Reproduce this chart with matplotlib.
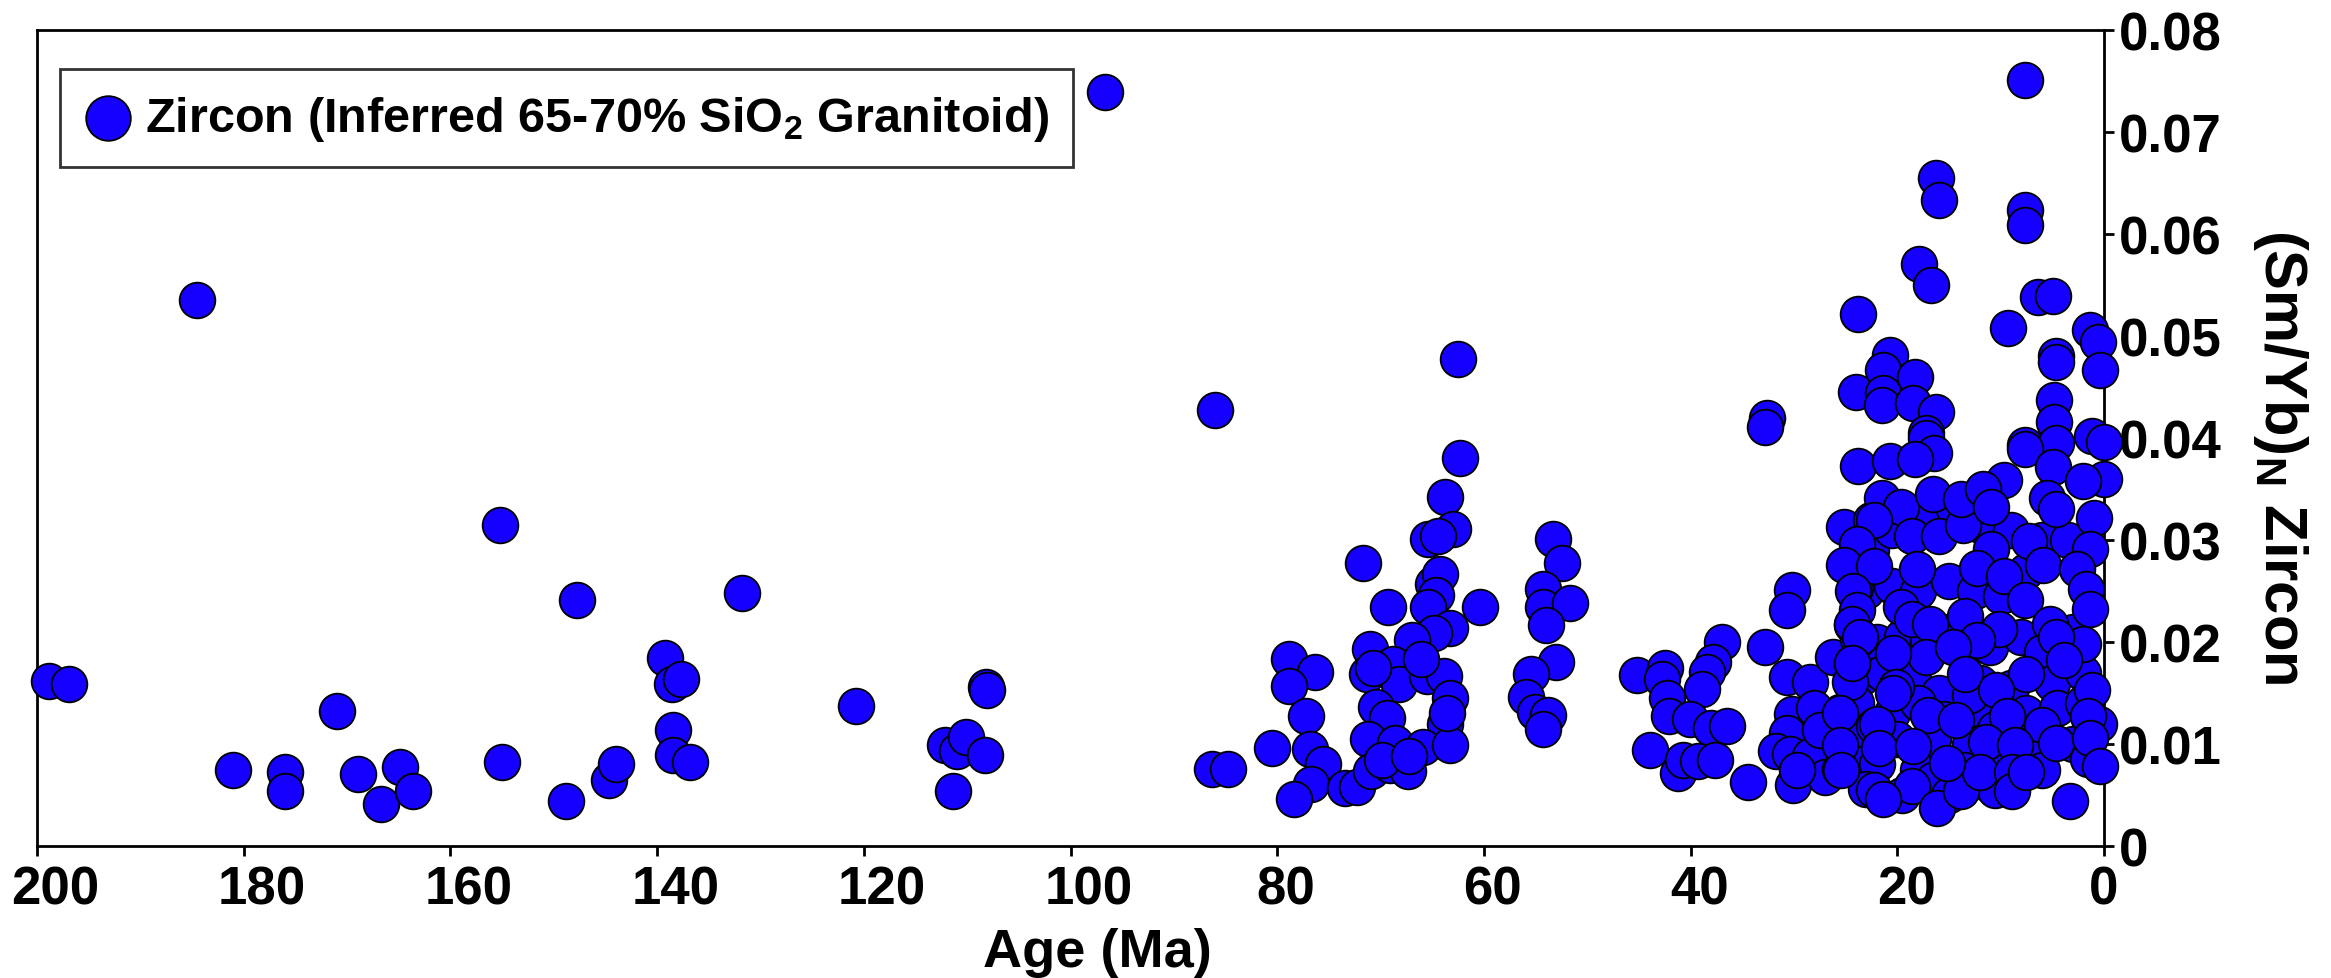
import matplotlib
matplotlib.use('Agg')
import matplotlib.pyplot as plt
from matplotlib.transforms import ScaledTranslation

plt.rcParams['font.family'] = ['Liberation Sans', 'DejaVu Sans']
plt.rcParams['font.weight'] = 'bold'
plt.rcParams['mathtext.fontset'] = 'custom'
plt.rcParams['mathtext.rm'] = 'Liberation Sans:bold'
plt.rcParams['mathtext.bf'] = 'Liberation Sans:bold'
plt.rcParams['mathtext.default'] = 'bf'

# ── data: age (Ma) and (Sm/Yb)N of zircon ──
# Jurassic - Cretaceous scatter
age_old = [198.8, 196.9, 184.5, 181.0, 176.0, 176.0, 171.0, 168.9, 166.7, 164.9,
           163.6, 155.2, 155.0, 148.8, 147.8, 144.7, 144.0, 139.2, 138.6, 137.7,
           138.5, 138.5, 136.8, 131.8, 120.8, 112.1, 111.0, 110.1, 111.4, 108.2,
           108.1, 108.3, 96.7, 86.0, 86.3, 84.8]
smyb_old = [0.0162, 0.0159, 0.0535, 0.0075, 0.0073, 0.0054, 0.0132, 0.0071, 0.0041, 0.0077,
            0.0054, 0.0315, 0.0082, 0.0044, 0.0241, 0.0065, 0.0080, 0.0184, 0.0159, 0.0164,
            0.0114, 0.0089, 0.0082, 0.0248, 0.0137, 0.0099, 0.0093, 0.0107, 0.0054, 0.0156,
            0.0153, 0.0089, 0.0739, 0.0427, 0.0076, 0.0076]

# Late Cretaceous - Eocene groups
age_mid = [62.5, 62.3, 63.8, 63.0, 65.4, 64.4, 71.7, 64.9, 64.2, 64.6,
           69.3, 65.4, 60.4, 63.3, 64.8, 67.0, 71.0, 78.9, 76.3, 78.9,
           71.3, 68.8, 68.2, 65.5, 63.9, 63.3, 77.2, 70.4, 69.4, 63.8,
           80.5, 76.8, 71.2, 68.6, 65.9, 63.3, 75.6, 76.7, 78.4, 73.4,
           72.3, 70.9, 69.1, 67.3, 66.1, 70.7, 69.9, 67.2, 63.6,
           53.3, 52.4, 54.3, 54.3, 51.7, 54.0, 53.0, 55.4, 55.9, 55.1,
           53.8, 54.3]
smyb_mid = [0.0477, 0.0380, 0.0342, 0.0311, 0.0301, 0.0304, 0.0277, 0.0257, 0.0267, 0.0246,
            0.0234, 0.0234, 0.0234, 0.0214, 0.0209, 0.0202, 0.0193, 0.0183, 0.0171, 0.0157,
            0.0169, 0.0178, 0.0159, 0.0167, 0.0167, 0.0145, 0.0127, 0.0136, 0.0126, 0.0120,
            0.0096, 0.0095, 0.0105, 0.0101, 0.0097, 0.0099, 0.0080, 0.0061, 0.0046, 0.0057,
            0.0058, 0.0074, 0.0079, 0.0074, 0.0183, 0.0175, 0.0084, 0.0088, 0.0130,
            0.0301, 0.0277, 0.0252, 0.0234, 0.0238, 0.0217, 0.0180, 0.0169, 0.0146, 0.0131,
            0.0128, 0.0115]

# Eocene - Oligocene
age_olig = [32.6, 32.8, 30.2, 30.7, 32.8, 37.0, 37.8, 38.4, 38.9, 45.2,
            42.5, 42.8, 42.3, 42.1, 40.1, 38.0, 36.5, 43.9, 41.2, 40.7,
            39.3, 37.6, 34.4, 30.7, 28.4, 30.2, 30.7, 31.7, 30.4, 30.1,
            28.4, 27.0, 25.5, 25.5, 26.2, 28.1, 27.5, 29.7]
smyb_olig = [0.0420, 0.0411, 0.0251, 0.0231, 0.0195, 0.0200, 0.0180, 0.0171, 0.0154, 0.0168,
             0.0175, 0.0164, 0.0145, 0.0127, 0.0125, 0.0116, 0.0118, 0.0094, 0.0072, 0.0084,
             0.0083, 0.0084, 0.0063, 0.0166, 0.0161, 0.0129, 0.0111, 0.0093, 0.0090, 0.0060,
             0.0088, 0.0068, 0.0131, 0.0076, 0.0185, 0.0135, 0.0114, 0.0075]

# Miocene - present cluster (back layer: points mostly hidden in the pile)
age_fill = [22.5, 20.5, 17.5, 14.5, 12.0, 9.0, 6.0, 3.5,
            23.0, 20.5, 18.0, 15.0, 12.5, 10.0, 7.5,
            22.0, 19.5, 17.0, 15.0, 11.0, 8.0, 6.0, 3.0,
            23.5, 21.5, 18.5, 16.0, 12.0, 9.0, 5.0, 2.0,
            24.0, 20.5, 18.0, 15.5, 12.5, 10.5, 7.5, 4.5, 2.0,
            23.5, 20.0, 16.5, 13.0, 9.5, 7.0, 3.0, 0.5,
            24.0, 22.0, 18.0, 16.5, 13.5, 11.0, 6.0, 1.5,
            19.5, 15.0, 10.5]
smyb_fill = [0.0290, 0.0310, 0.0320, 0.0330, 0.0315, 0.0310, 0.0300, 0.0300,
             0.0250, 0.0255, 0.0250, 0.0260, 0.0250, 0.0245, 0.0270,
             0.0200, 0.0205, 0.0200, 0.0210, 0.0195, 0.0205, 0.0190, 0.0210,
             0.0165, 0.0170, 0.0165, 0.0150, 0.0160, 0.0155, 0.0160, 0.0170,
             0.0140, 0.0130, 0.0140, 0.0125, 0.0135, 0.0115, 0.0130, 0.0135, 0.0140,
             0.0105, 0.0105, 0.0105, 0.0100, 0.0090, 0.0100, 0.0100, 0.0120,
             0.0080, 0.0080, 0.0075, 0.0065, 0.0075, 0.0060, 0.0075, 0.0085,
             0.0050, 0.0050, 0.0055]

# Miocene - present cluster (visible points)
age_young = [23.8, 24.0, 23.8, 25.2, 22.5, 24.9, 24.1, 24.4, 23.8, 24.4,
             22.3, 23.0, 24.6,
             7.6, 16.3, 16.0, 7.6, 7.6, 17.9, 16.7, 6.4, 4.9, 9.3,
             1.35, 0.6, 0.4, 4.6, 4.6, 4.8, 4.8, 20.7, 21.4, 18.3,
             21.4, 21.5, 18.5, 16.3, 17.2, 7.6, 1.2, 4.6, 0.0, 0.0,
             17.2, 16.4, 20.7, 18.3, 7.6, 4.9, 2.0, 9.7, 1.0, 5.5,
             4.6, 21.5, 19.6, 22.3, 23.9, 18.6, 16.5, 16.0, 13.6, 13.8,
             11.7, 10.9, 10.9, 7.3, 1.35, 25.2, 22.3, 18.1, 12.3, 9.7,
             5.9, 2.6, 1.7, 24.3, 23.9, 24.4, 23.6, 19.6, 18.6, 16.8,
             13.4, 10.2, 7.6, 5.2, 1.35, 2.0, 4.6, 12.3, 17.2, 20.4,
             24.4, 14.6, 7.5, 3.9, 20.1, 20.4, 13.0, 13.4, 10.4, 1.2,
             25.5, 22.0, 17.0, 14.3, 9.4, 6.0, 1.5, 25.5, 21.8, 18.5,
             11.4, 8.6, 4.6, 1.35, 0.4, 25.4, 22.3, 18.6, 16.2, 13.8,
             12.0, 8.9, 8.9, 3.3, 15.2, 21.4, 7.5]
smyb_young = [0.0522, 0.0445, 0.0373, 0.0313, 0.0320, 0.0276, 0.0253, 0.0217, 0.0203, 0.0178,
              0.0118, 0.0056, 0.0161,
              0.0751, 0.0655, 0.0633, 0.0624, 0.0609, 0.0571, 0.0550, 0.0538, 0.0539, 0.0508,
              0.0506, 0.0494, 0.0467, 0.0480, 0.0475, 0.0437, 0.0416, 0.0481, 0.0467, 0.0460,
              0.0444, 0.0432, 0.0434, 0.0426, 0.0405, 0.0393, 0.0402, 0.0395, 0.0396, 0.0360,
              0.0400, 0.0385, 0.0377, 0.0379, 0.0389, 0.0372, 0.0358, 0.0359, 0.0322, 0.0341,
              0.0330, 0.0341, 0.0332, 0.0320, 0.0296, 0.0304, 0.0345, 0.0304, 0.0315, 0.0340,
              0.0350, 0.0332, 0.0291, 0.0299, 0.0291, 0.0276, 0.0275, 0.0272, 0.0273, 0.0265,
              0.0276, 0.0272, 0.0252, 0.0250, 0.0231, 0.0218, 0.0205, 0.0234, 0.0223, 0.0218,
              0.0226, 0.0213, 0.0241, 0.0218, 0.0232, 0.0198, 0.0205, 0.0202, 0.0185, 0.0189,
              0.0179, 0.0195, 0.0169, 0.0182, 0.0156, 0.0150, 0.0148, 0.0169, 0.0153, 0.0153,
              0.0130, 0.0120, 0.0128, 0.0124, 0.0127, 0.0119, 0.0127, 0.0099, 0.0096, 0.0098,
              0.0102, 0.0099, 0.0101, 0.0106, 0.0078, 0.0075, 0.0055, 0.0059, 0.0037, 0.0054,
              0.0073, 0.0073, 0.0054, 0.0044, 0.0081, 0.0046, 0.0073]

ages = age_old + age_mid + age_olig + age_fill + age_young
smyb = smyb_old + smyb_mid + smyb_olig + smyb_fill + smyb_young

x_ticks = list(range(0, 201, 20))
y_ticks = [0, 0.01, 0.02, 0.03, 0.04, 0.05, 0.06, 0.07, 0.08]
y_tick_labels = ['0', '0.01', '0.02', '0.03', '0.04', '0.05', '0.06', '0.07', '0.08']

fig = plt.figure(figsize=(23.31, 9.79), dpi=100)
ax = fig.add_axes([0.0159, 0.1348, 0.8867, 0.8335])

ax.scatter(ages, smyb, s=660, c='#1500ff', edgecolors='black', linewidths=1.3,
           clip_on=False, zorder=3,
           label=r'Zircon (Inferred 65-70% SiO$_\mathbf{2}$ Granitoid)')

ax.set_xlim(200, 0)
ax.set_ylim(0, 0.08)
ax.set_xticks(x_ticks)
ax.set_xticklabels([str(t) for t in x_ticks])
ax.set_yticks(y_ticks)
ax.set_yticklabels(y_tick_labels)
ax.yaxis.tick_right()
ax.tick_params(axis='both', direction='out', length=7, width=2, labelsize=38)
ax.tick_params(axis='x', pad=6)
ax.tick_params(axis='y', pad=4)

# the x labels sit a little right of their ticks in the original
for lab in ax.get_xticklabels():
    shift = 9 * (len(lab.get_text()) - 1) / 100
    lab.set_transform(lab.get_transform() + ScaledTranslation(shift, 0, fig.dpi_scale_trans))

for sp in ax.spines.values():
    sp.set_linewidth(2)

fig.text(0.4706, 0.0123, 'Age (Ma)', fontsize=39, fontweight='bold',
         ha='center', va='baseline')
fig.text(0.9785, 0.533, r'(Sm/Yb)$_\mathbf{N}$ Zircon', fontsize=43, fontweight='bold',
         rotation=270, ha='center', va='center')

leg = ax.legend(loc='upper left', bbox_to_anchor=(0.011, 0.952), borderaxespad=0,
                fontsize=35, frameon=True, fancybox=False, markerscale=1.25,
                handletextpad=0.25, borderpad=0.5, handlelength=1.0)
leg.get_frame().set_edgecolor('black')
leg.get_frame().set_linewidth(2)

fig.savefig('out.png', dpi=100)
